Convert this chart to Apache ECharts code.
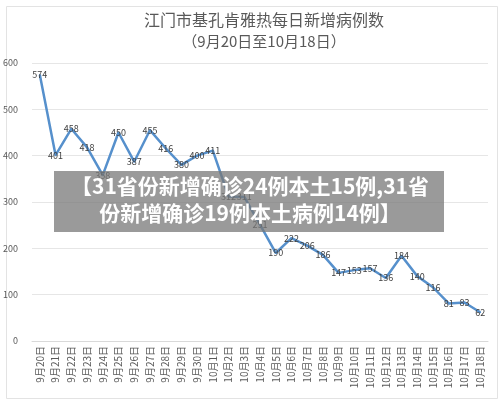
<!DOCTYPE html>
<html>
<head>
<meta charset="utf-8">
<script src="https://cdn.jsdelivr.net/npm/echarts@6/dist/echarts.min.js"></script>
<style>
  html, body { margin: 0; padding: 0; background: #fff; }
  #chart { width: 500px; height: 401px; }
</style>
</head>
<body>
<div id="chart"></div>
<script>
// 日期
const dates = [
  '9月20日', '9月21日', '9月22日', '9月23日', '9月24日', '9月25日', '9月26日',
  '9月27日', '9月28日', '9月29日', '9月30日', '10月1日', '10月2日', '10月3日',
  '10月4日', '10月5日', '10月6日', '10月7日', '10月8日', '10月9日', '10月10日',
  '10月11日', '10月12日', '10月13日', '10月14日', '10月15日', '10月16日',
  '10月17日', '10月18日'
]
// 每日新增病例数
const cases = [
  574, 401, 458, 418, 358, 450, 387, 455, 416, 380, 400, 411, 312, 311,
  251, 190, 222, 206, 186, 147, 153, 157, 136, 184, 140, 116, 81, 83, 62
]
const titleText = '江门市基孔肯雅热每日新增病例数'
const subText = '（9月20日至10月18日）'
const bannerLines = ['【31省份新增确诊24例本土15例,31省', '份新增确诊19例本土病例14例】']

const lineColor = '#5690cc'

const chart = echarts.init(document.getElementById('chart'))
chart.setOption({
  animation: false,
  textStyle: { fontFamily: '"Noto Sans CJK SC", "Noto Sans", sans-serif' },
  title: {
    text: titleText,
    subtext: subText,
    left: 259,
    textAlign: 'center',
    top: 7,
    itemGap: 6,
    textStyle: { fontSize: 16, fontWeight: 'normal', color: '#595959' },
    subtextStyle: { fontSize: 15, color: '#595959' }
  },
  grid: { left: 32, right: 12, top: 63, bottom: 60 },
  xAxis: {
    type: 'category',
    data: dates,
    boundaryGap: true,
    axisLine: { lineStyle: { color: '#d9d9d9' } },
    axisTick: { lineStyle: { color: '#d9d9d9' }, length: 5 },
    axisLabel: {
      rotate: 90,
      interval: 0,
      fontSize: 10,
      color: '#595959',
      margin: 5
    }
  },
  yAxis: {
    type: 'value',
    min: 0,
    max: 600,
    interval: 100,
    axisLine: { show: false },
    axisTick: { show: false },
    axisLabel: { fontSize: 9, color: '#595959', margin: 14 },
    splitLine: { lineStyle: { color: '#e6e6e6' } }
  },
  series: [
    {
      type: 'line',
      data: cases,
      symbol: 'circle',
      symbolSize: 2,
      showSymbol: true,
      itemStyle: { color: lineColor },
      lineStyle: { color: lineColor, width: 2.5 },
      label: {
        show: true,
        position: 'inside',
        fontSize: 9,
        color: '#404040'
      },
      labelLayout: { hideOverlap: false }
    }
  ],
  graphic: [
    {
      type: 'rect',
      left: 4,
      top: 4,
      shape: { width: 491, height: 392 },
      style: { fill: 'none', stroke: '#e3e3e3', lineWidth: 1 },
      z: 0
    },
    {
      type: 'rect',
      left: 54,
      top: 171,
      shape: { width: 390, height: 61 },
      style: { fill: 'rgba(120,120,120,0.75)' },
      z: 100
    },
    {
      type: 'text',
      left: 'center',
      top: 173,
      style: {
        text: bannerLines.join('\n'),
        fill: '#fff',
        fontSize: 21,
        fontWeight: 'bold',
        lineHeight: 27,
        textAlign: 'center',
        fontFamily: '"Noto Sans CJK SC", sans-serif'
      },
      z: 101
    }
  ]
})
</script>
</body>
</html>
